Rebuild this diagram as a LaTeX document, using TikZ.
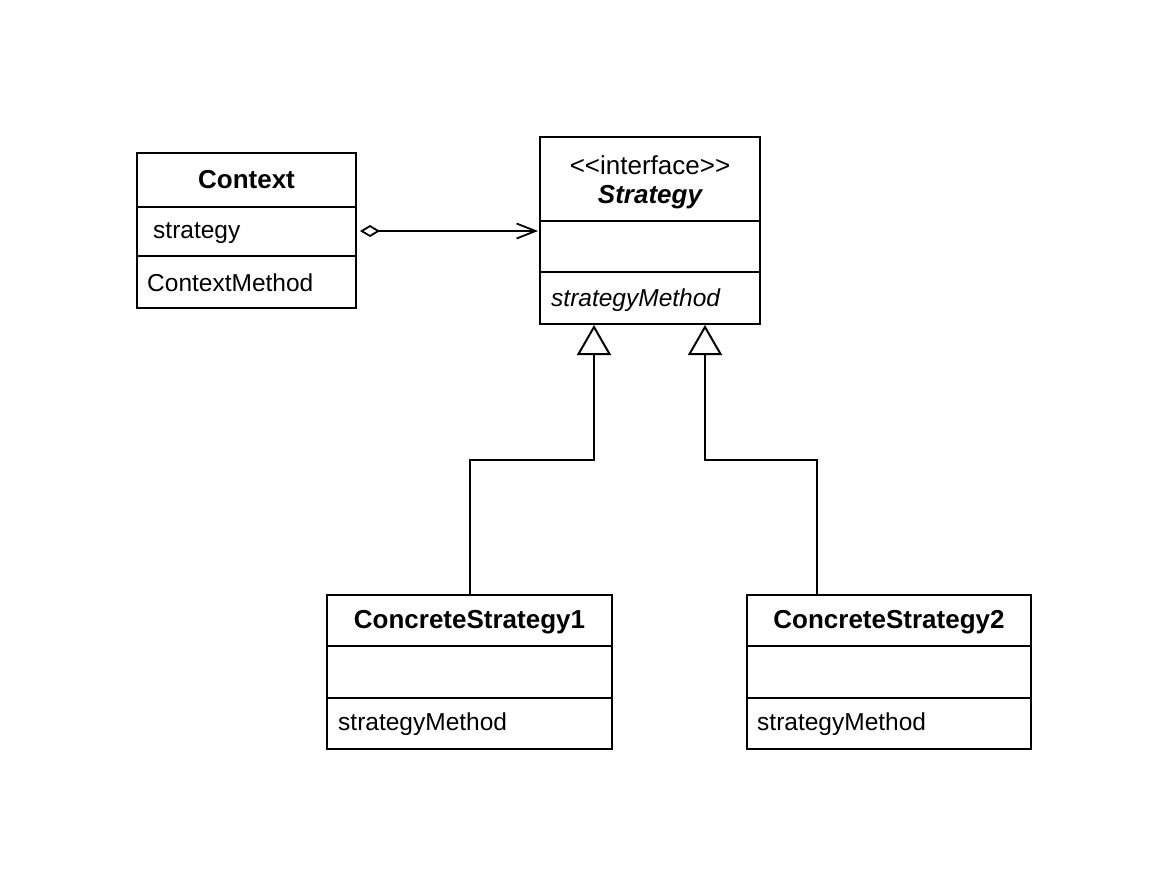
\documentclass[tikz,border=0pt]{standalone}
\usepackage{fontspec}
\setmainfont{Liberation Sans}
\usetikzlibrary{arrows.meta,calc}
\begin{document}
\begin{tikzpicture}[x=1pt,y=-1pt,
  lw/.style={line width=2pt},
  classbox/.style={draw,lw,rectangle,inner sep=0pt,anchor=north west},
  title/.style={inner sep=0pt,font=\fontsize{26}{30}\selectfont\bfseries},
  body/.style={inner sep=0pt,anchor=west,font=\fontsize{24.5}{28}\selectfont},
  inherit/.style={lw,-{Triangle[open,length=30pt,width=34pt,line width=2pt]}},
]
\useasboundingbox (0,0) rectangle (1166,884);
% Context
\node[classbox,minimum width=219pt,minimum height=155pt] (ctx) at (136,152) {};
\draw[lw] ($(ctx.north west)+(0,55)$) -- ($(ctx.north east)+(0,55)$);
\draw[lw] ($(ctx.north west)+(0,104)$) -- ($(ctx.north east)+(0,104)$);
\node[title] (ctxT) at ($(ctx.north)+(0,28)$) {Context};
\node[body] (ctxA) at ($(ctx.north west)+(17,81)$) {strategy};
\node[body] (ctxM) at ($(ctx.north west)+(11,131)$) {ContextMethod};
% Strategy
\node[classbox,minimum width=220pt,minimum height=187pt] (str) at (539,136) {};
\draw[lw] ($(str.north west)+(0,85)$) -- ($(str.north east)+(0,85)$);
\draw[lw] ($(str.north west)+(0,136)$) -- ($(str.north east)+(0,136)$);
\node[inner sep=0pt,font=\fontsize{26}{30}\selectfont] (strS) at ($(str.north)+(0,29)$) {{<}{<}interface{>}{>}};
\node[title,font=\fontsize{26}{30}\selectfont\bfseries\itshape] (strT) at ($(str.north)+(0,61)$) {Strategy};
\node[body,font=\fontsize{24.5}{28}\selectfont\itshape] (strM) at ($(str.north west)+(12,164)$) {strategyMethod};
% ConcreteStrategy1
\node[classbox,minimum width=285pt,minimum height=154pt] (cs1) at (326,594) {};
\draw[lw] ($(cs1.north west)+(0,52)$) -- ($(cs1.north east)+(0,52)$);
\draw[lw] ($(cs1.north west)+(0,104)$) -- ($(cs1.north east)+(0,104)$);
\node[title] (cs1T) at ($(cs1.north)+(0,28)$) {ConcreteStrategy1};
\node[body] (cs1M) at ($(cs1.north west)+(12,130)$) {strategyMethod};
% ConcreteStrategy2
\node[classbox,minimum width=284pt,minimum height=154pt] (cs2) at (746,594) {};
\draw[lw] ($(cs2.north west)+(0,52)$) -- ($(cs2.north east)+(0,52)$);
\draw[lw] ($(cs2.north west)+(0,104)$) -- ($(cs2.north east)+(0,104)$);
\node[title] (cs2T) at ($(cs2.north)+(0,28)$) {ConcreteStrategy2};
\node[body] (cs2M) at ($(cs2.north west)+(11,130)$) {strategyMethod};
% association
\coordinate (aS) at ($(ctx.north east)+(3,79)$);
\coordinate (aE) at ($(str.north west)+(-1,95)$);
\draw[lw,{Diamond[open,length=20pt,width=12pt,line width=1.8pt]}-{Straight Barb[length=19pt,width=15pt,line width=1.8pt]}] (aS) -- (aS -| aE);
% inheritance
\coordinate (t1) at ($(str.south west)+(55,0)$);
\coordinate (t2) at ($(str.south west)+(166,0)$);
\coordinate (b2) at ($(cs2.north west)+(71,0)$);
\draw[inherit] (cs1.north) |- ($(t1)+(0,135)$) -- (t1);
\draw[inherit] (b2) |- ($(t2)+(0,135)$) -- (t2);
\end{tikzpicture}
\end{document}
